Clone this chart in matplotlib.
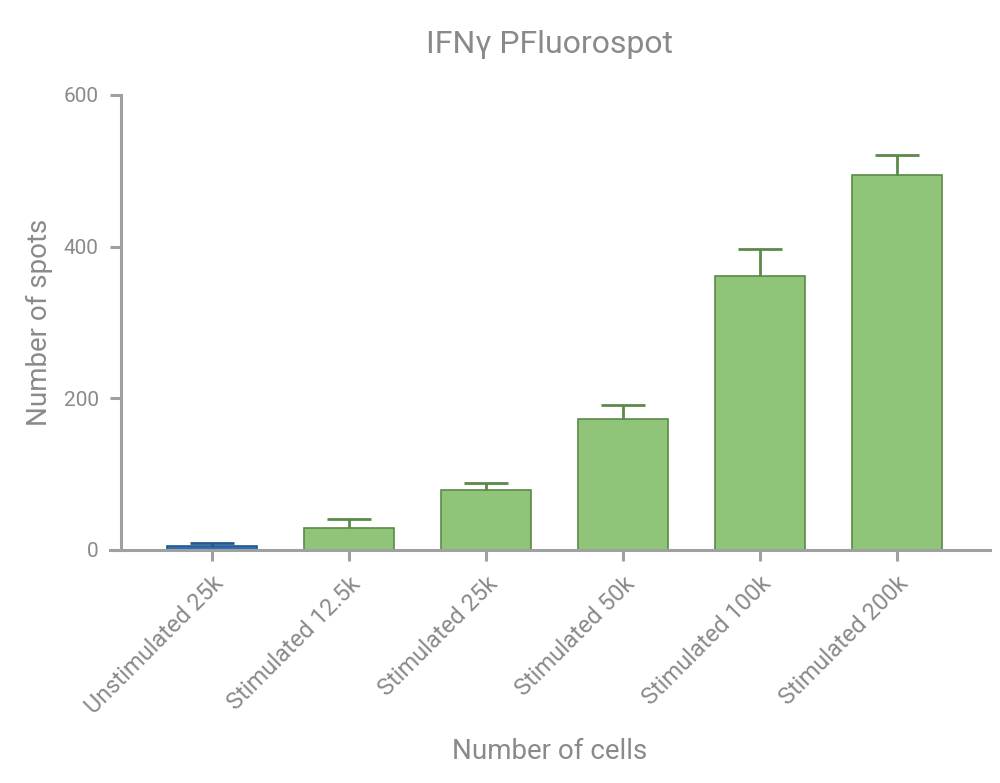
import matplotlib.pyplot as plt

categories = ['Unstimulated 25k', 'Stimulated 12.5k', 'Stimulated 25k',
              'Stimulated 50k', 'Stimulated 100k', 'Stimulated 200k']
spots = [5, 29, 79, 173, 361, 495]
err_up = [4, 12, 9, 18, 36, 26]
y_ticks = [0, 200, 400, 600]

gray = '#8a8a8a'
axis_gray = '#a0a0a0'
plt.rcParams['font.family'] = ['Roboto', 'DejaVu Sans']

fig = plt.figure(figsize=(10, 7.83), dpi=100)
ax = fig.add_axes([0.11, 0.2976, 0.88, 0.5811])

x = list(range(len(categories)))
fill = ['#2e6cb3'] + ['#8fc479'] * 5
edge = ['#24578f'] + ['#5b8a48'] * 5
ax.bar(x, spots, width=0.66, color=fill, edgecolor=edge, linewidth=1.2, zorder=2)
for xi, v, e, c in zip(x, spots, err_up, edge):
    eb = ax.errorbar(xi, v, yerr=[[0], [e]], fmt='none', ecolor=c, elinewidth=2,
                     capsize=16, capthick=2, zorder=3)
    eb[1][0].set_visible(False)  # no lower cap

ax.set_xlim(-0.745, 5.68)
ax.set_ylim(0, 600)
ax.set_yticks(y_ticks)
ax.set_xticks(x)
ax.set_xticklabels(categories, rotation=45, ha='right', rotation_mode='anchor')

for s in ['top', 'right']:
    ax.spines[s].set_visible(False)
ax.spines['left'].set_position(('axes', 0.0125))
for s in ['left', 'bottom']:
    ax.spines[s].set_color(axis_gray)
    ax.spines[s].set_linewidth(2.2)
ax.tick_params(axis='both', colors=axis_gray, width=2.2, length=8,
               labelcolor=gray)
ax.tick_params(axis='x', pad=8, labelsize=17)
ax.tick_params(axis='y', pad=8, labelsize=15)

ax.set_title('IFNγ PFluorospot', color=gray, fontsize=23, pad=30)
ax.set_ylabel('Number of spots', color=gray, fontsize=20, labelpad=8)
ax.set_xlabel('Number of cells', color=gray, fontsize=20, labelpad=14)

fig.savefig('out.png', dpi=100)
